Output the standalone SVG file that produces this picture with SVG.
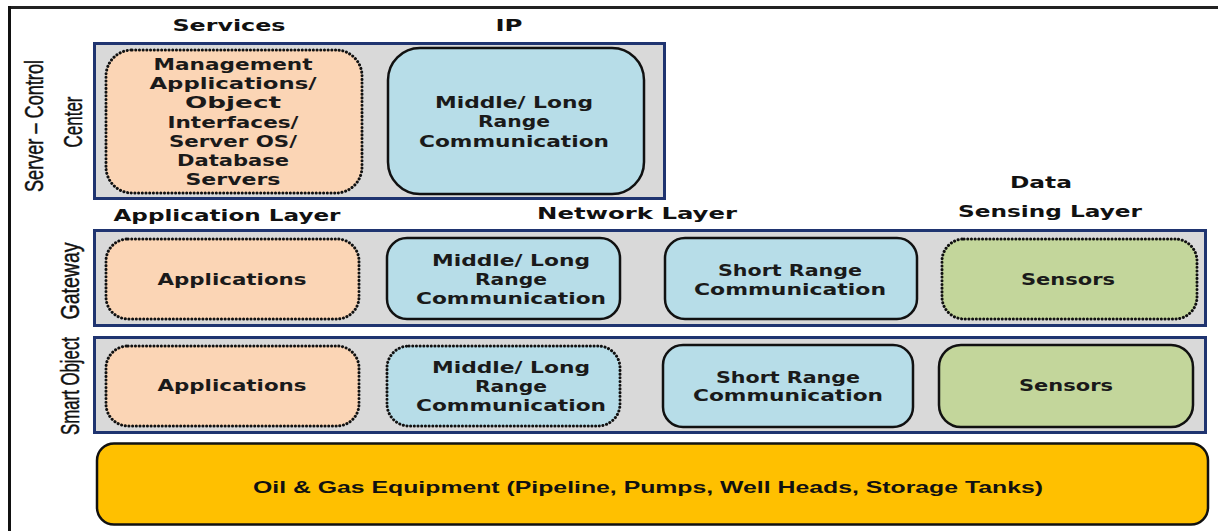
<svg xmlns="http://www.w3.org/2000/svg" width="1218" height="531" viewBox="0 0 1218 531">
<style>
.panel{fill:#d9d9d9;stroke:#1f3470;stroke-width:3}
.app{fill:#fbd5b5}
.net{fill:#b7dde8}
.sen{fill:#c3d69b}
.solid{stroke:#111;stroke-width:2.5}
.dot{stroke:#111;stroke-width:3;stroke-dasharray:0.1 3.6;stroke-linecap:round}
.t{font-family:"DejaVu Sans",Verdana,sans-serif;font-weight:bold;font-size:16px;fill:#1a1a1a;text-anchor:middle}
.h{font-family:"DejaVu Sans",Verdana,sans-serif;font-weight:bold;font-size:16px;fill:#111;text-anchor:middle}
.r{font-family:"Liberation Sans",Arial,sans-serif;font-size:23px;fill:#111;text-anchor:middle;stroke:#111;stroke-width:0.4}
.o{font-family:"Liberation Sans",Arial,sans-serif;font-weight:bold;font-size:17px;fill:#111;text-anchor:middle}
</style>
<rect width="1218" height="531" fill="#fff"/>
<g id="frame">
<line x1="8" y1="7.5" x2="1218" y2="7.5" stroke="#222" stroke-width="3"/>
<line x1="9.5" y1="6" x2="9.5" y2="531" stroke="#111" stroke-width="3"/>
</g>
<g id="headers">
<text class="h" x="229" y="31" textLength="113" lengthAdjust="spacingAndGlyphs">Services</text>
<text class="h" x="509" y="31" textLength="27" lengthAdjust="spacingAndGlyphs">IP</text>
<text class="h" x="227" y="221" textLength="227" lengthAdjust="spacingAndGlyphs">Application Layer</text>
<text class="h" x="637" y="219" textLength="200" lengthAdjust="spacingAndGlyphs">Network Layer</text>
<text class="h" x="1041" y="188" textLength="62" lengthAdjust="spacingAndGlyphs">Data</text>
<text class="h" x="1050" y="217" textLength="184" lengthAdjust="spacingAndGlyphs">Sensing Layer</text>
</g>
<g id="row-labels">
<text class="r" transform="translate(43,126) rotate(-90) scale(1,1.15)" textLength="132" lengthAdjust="spacingAndGlyphs">Server – Control</text>
<text class="r" transform="translate(82,122) rotate(-90) scale(1,1.15)" textLength="51" lengthAdjust="spacingAndGlyphs">Center</text>
<text class="r" transform="translate(79,281) rotate(-90) scale(1,1.15)" textLength="77" lengthAdjust="spacingAndGlyphs">Gateway</text>
<text class="r" transform="translate(79,386) rotate(-90) scale(1,1.15)" textLength="98" lengthAdjust="spacingAndGlyphs">Smart Object</text>
</g>
<g id="server-panel">
<rect class="panel" x="94.5" y="43.5" width="570" height="155"/>
</g>
<g id="srv-mgmt">
<rect class="app dot" x="106" y="50" width="256" height="143" rx="26"/>
<text class="t" x="233" y="70" textLength="159" lengthAdjust="spacingAndGlyphs">Management</text>
<text class="t" x="233" y="89" textLength="167" lengthAdjust="spacingAndGlyphs">Applications/</text>
<text class="t" x="233" y="108" textLength="96" lengthAdjust="spacingAndGlyphs">Object</text>
<text class="t" x="233" y="128" textLength="131" lengthAdjust="spacingAndGlyphs">Interfaces/</text>
<text class="t" x="233" y="147" textLength="128" lengthAdjust="spacingAndGlyphs">Server OS/</text>
<text class="t" x="233" y="166" textLength="112" lengthAdjust="spacingAndGlyphs">Database</text>
<text class="t" x="233" y="185" textLength="95" lengthAdjust="spacingAndGlyphs">Servers</text>
</g>
<g id="srv-net">
<rect class="net solid" x="388" y="48" width="256" height="146" rx="32"/>
<text class="t" x="514" y="108" textLength="158" lengthAdjust="spacingAndGlyphs">Middle/ Long</text>
<text class="t" x="514" y="127" textLength="72" lengthAdjust="spacingAndGlyphs">Range</text>
<text class="t" x="514" y="147" textLength="190" lengthAdjust="spacingAndGlyphs">Communication</text>
</g>
<g id="gateway-panel">
<rect class="panel" x="94.5" y="230.5" width="1111" height="95"/>
</g>
<g id="gw-app">
<rect class="app dot" x="106" y="239" width="253" height="80" rx="22"/>
<text class="t" x="232" y="285" textLength="149" lengthAdjust="spacingAndGlyphs">Applications</text>
</g>
<g id="gw-net">
<rect class="net solid" x="387" y="238" width="233" height="81" rx="20"/>
<text class="t" x="511" y="266" textLength="158" lengthAdjust="spacingAndGlyphs">Middle/ Long</text>
<text class="t" x="511" y="285" textLength="72" lengthAdjust="spacingAndGlyphs">Range</text>
<text class="t" x="511" y="304" textLength="190" lengthAdjust="spacingAndGlyphs">Communication</text>
</g>
<g id="gw-short">
<rect class="net solid" x="665" y="238" width="252" height="81" rx="20"/>
<text class="t" x="790" y="276" textLength="144" lengthAdjust="spacingAndGlyphs">Short Range</text>
<text class="t" x="790" y="295" textLength="192" lengthAdjust="spacingAndGlyphs">Communication</text>
</g>
<g id="gw-sensors">
<rect class="sen dot" x="942" y="239" width="255" height="80" rx="22"/>
<text class="t" x="1068" y="285" textLength="94" lengthAdjust="spacingAndGlyphs">Sensors</text>
</g>
<g id="smart-panel">
<rect class="panel" x="94.5" y="337.5" width="1111" height="95"/>
</g>
<g id="so-app">
<rect class="app dot" x="106" y="346" width="253" height="80" rx="22"/>
<text class="t" x="232" y="391" textLength="149" lengthAdjust="spacingAndGlyphs">Applications</text>
</g>
<g id="so-net">
<rect class="net dot" x="387" y="346" width="233" height="80" rx="22"/>
<text class="t" x="511" y="373" textLength="158" lengthAdjust="spacingAndGlyphs">Middle/ Long</text>
<text class="t" x="511" y="392" textLength="72" lengthAdjust="spacingAndGlyphs">Range</text>
<text class="t" x="511" y="411" textLength="190" lengthAdjust="spacingAndGlyphs">Communication</text>
</g>
<g id="so-short">
<rect class="net solid" x="663" y="345" width="250" height="82" rx="20"/>
<text class="t" x="788" y="383" textLength="144" lengthAdjust="spacingAndGlyphs">Short Range</text>
<text class="t" x="788" y="401" textLength="190" lengthAdjust="spacingAndGlyphs">Communication</text>
</g>
<g id="so-sensors">
<rect class="sen solid" x="939" y="345" width="254" height="82" rx="22"/>
<text class="t" x="1066" y="391" textLength="94" lengthAdjust="spacingAndGlyphs">Sensors</text>
</g>
<g id="equipment">
<rect x="97" y="443.5" width="1111" height="81" rx="17" fill="#ffc000" stroke="#111" stroke-width="2.5"/>
<text class="o" x="648" y="493" textLength="790" lengthAdjust="spacingAndGlyphs">Oil &amp; Gas Equipment (Pipeline, Pumps, Well Heads, Storage Tanks)</text>
</g>
<g id="connectors"></g>
</svg>
